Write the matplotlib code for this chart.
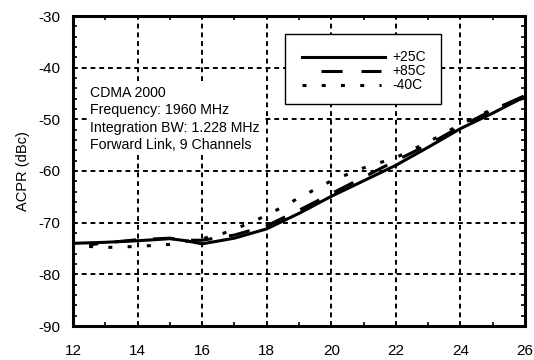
import matplotlib
matplotlib.use("Agg")
import matplotlib.pyplot as plt
from matplotlib.ticker import MultipleLocator
from matplotlib.patches import Rectangle
from matplotlib.lines import Line2D

plt.rcParams['font.family'] = ['Liberation Sans', 'DejaVu Sans']
plt.rcParams['axes.unicode_minus'] = False

# Data
x25 = [12, 13, 14, 15, 15.5, 16, 17, 18, 19, 20, 21, 22, 23, 24, 25, 26]
y25 = [-74.0, -73.8, -73.5, -73.1, -73.5, -74.1, -73.0, -71.2, -68.2, -64.9, -61.9, -58.9, -55.4, -51.8, -48.8, -45.6]

x85 = [12.5, 13, 14, 15, 15.5, 16, 17, 18, 19, 20, 21, 22, 23, 24, 25, 26]
y85 = [-74.3, -73.9, -73.3, -73.0, -73.4, -73.4, -72.4, -70.6, -67.6, -64.4, -61.2, -58.0, -54.9, -51.4, -48.2, -45.4]

x40 = [12.5, 13, 14, 15, 15.5, 16, 16.5, 17, 18, 19, 20, 21, 22, 23, 24, 25, 26]
y40 = [-74.6, -74.8, -74.6, -74.2, -73.6, -73.1, -72.4, -71.3, -68.6, -65.2, -61.9, -59.4, -57.4, -54.4, -51.0, -48.0, -45.8]

labels = ['+25C', '+85C', '-40C']
note = "CDMA 2000\nFrequency: 1960 MHz\nIntegration BW: 1.228 MHz\nForward Link, 9 Channels"

L, R, T, B = 73, 525, 16, 326
fig = plt.figure(figsize=(5.34, 3.60), dpi=100)
ax = fig.add_axes([L/534, 1-B/360, (R-L)/534, (B-T)/360])

def ax_xy(px, py):
    return (px - L) / (R - L), (B - py) / (B - T)

styles = ['-', (4, (7, 5.5)), (0, (1.3, 5))]
ax.plot(x25, y25, color='black', lw=2.2, ls=styles[0], zorder=3)
ax.plot(x85, y85, color='black', lw=2.2, ls=styles[1], zorder=3)
ax.plot(x40, y40, color='black', lw=2.2, ls=styles[2], zorder=3)

ax.set_xlim(12, 26)
ax.set_ylim(-90, -30)
ax.xaxis.set_major_locator(MultipleLocator(2))
ax.xaxis.set_minor_locator(MultipleLocator(1))
ax.yaxis.set_major_locator(MultipleLocator(10))
ax.yaxis.set_minor_locator(MultipleLocator(2))
ax.tick_params(which='major', direction='in', length=0, labelsize=11)
ax.tick_params(axis='x', which='major', pad=13)
ax.tick_params(axis='y', which='major', pad=9)
ax.tick_params(which='minor', direction='in', length=3, width=1.2, top=True, right=True)
ax.grid(True, which='major', color='black', lw=1.4, ls=(0, (2.5, 2)))
ax.set_axisbelow(True)
for s in ax.spines.values():
    s.set_linewidth(2.2)
    s.set_zorder(5)

ax.set_ylabel('ACPR (dBc)', fontsize=10.5, labelpad=6)

ax.text(*ax_xy(90, 86), note, transform=ax.transAxes, fontsize=10.2,
        va='top', ha='left', linespacing=1.3, zorder=2,
        bbox=dict(facecolor='white', edgecolor='none', pad=2))

# Legend box drawn manually
x0, y0 = ax_xy(284.7, 104)
x1, y1 = ax_xy(441, 34)
ax.add_patch(Rectangle((x0, y0), x1 - x0, y1 - y0, transform=ax.transAxes,
                       facecolor='white', edgecolor='black', lw=1.0, zorder=4))
rows = [57, 71, 85]
starts = [302, 321, 302]
ends = [385, 381, 381]
for lab, st, py, xs, xe in zip(labels, styles, rows, starts, ends):
    a, yy = ax_xy(xs, py)
    b, _ = ax_xy(xe, py)
    ls = st if st != styles[1] else (0, (6.9, 6.2))
    ax.add_line(Line2D([a, b], [yy, yy], transform=ax.transAxes, color='black',
                       lw=2.2, ls=ls, dash_capstyle='butt', zorder=5))
    tx, _ = ax_xy(392, py)
    ax.text(tx, yy, lab, transform=ax.transAxes, fontsize=10, va='center',
            ha='left', zorder=5)

fig.savefig('out.png', dpi=100)
